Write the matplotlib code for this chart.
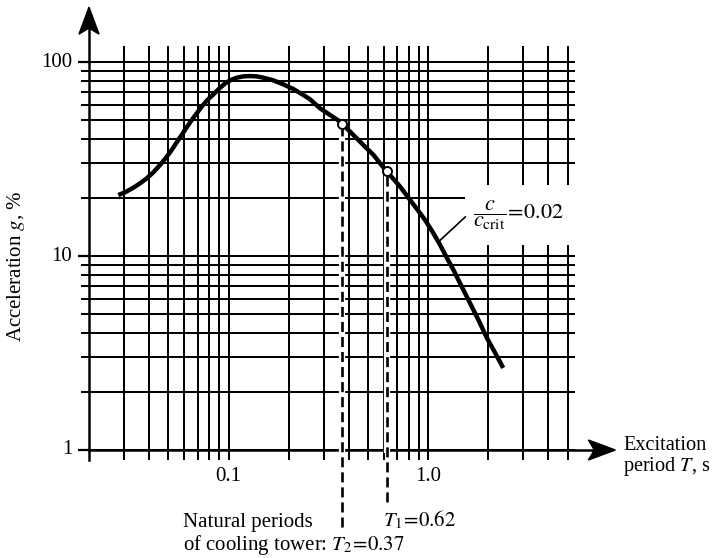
import matplotlib
matplotlib.use("Agg")
import matplotlib.pyplot as plt
import matplotlib.transforms as mtransforms
from matplotlib.patches import Polygon, Rectangle

plt.rcParams['font.family'] = 'Liberation Serif'
plt.rcParams['mathtext.fontset'] = 'stix'
plt.rcParams['font.size'] = 15

# response spectrum (period in s, acceleration in % of g)
period = [0.02804, 0.03029, 0.03334, 0.03601, 0.0389, 0.04199, 0.04535, 0.04861, 0.05189, 0.05497,
          0.05823, 0.06169, 0.06536, 0.06925, 0.07336, 0.07831, 0.08394, 0.08995, 0.09605, 0.1025,
          0.1099, 0.1187, 0.1282, 0.1384, 0.1495, 0.1678, 0.1883, 0.2113, 0.2372, 0.2562,
          0.2875, 0.3228, 0.359, 0.3986, 0.439, 0.4832, 0.532, 0.5745, 0.616, 0.67,
          0.724, 0.812, 0.886, 0.966, 1.053, 1.148, 1.238, 1.339, 1.472, 1.62,
          1.791, 1.968, 2.167, 2.376]
accel = [20.63, 21.29, 22.5, 23.69, 25.14, 27.0, 29.45, 32.13, 35.19, 38.54,
         42.05, 46.06, 50.23, 54.37, 58.87, 63.7, 68.14, 73.14, 77.62, 80.77,
         83.04, 84.37, 84.7, 84.37, 83.04, 80.45, 76.71, 72.56, 67.61, 64.2,
         57.7, 53.3, 49.6, 44.6, 40.4, 36.6, 33.2, 30.05, 27.5, 24.94,
         22.76, 19.44, 17.27, 15.3, 13.3, 11.4, 9.82, 8.47, 6.96, 5.72,
         4.65, 3.78, 3.16, 2.65]

# natural periods of the cooling tower
T1, A1 = 0.62, 27.3
T2, A2 = 0.37, 48.1
damping = 0.02

grid_x = [0.03, 0.04, 0.05, 0.06, 0.07, 0.08, 0.09, 0.1, 0.2, 0.3, 0.4, 0.5, 0.6, 0.7,
          0.8, 0.9, 1.0, 2, 3, 4, 5]
grid_y = [1, 2, 3, 4, 5, 6, 7, 8, 9, 10, 20, 30, 40, 50, 60, 70, 80, 90, 100]
xtick_vals, xtick_labels = [0.1, 1.0], ['0.1', '1.0']
ytick_vals, ytick_labels = [1, 10, 100], ['1', '10', '100']

W, H = 712, 558
fig = plt.figure(figsize=(W/100, H/100), dpi=100)
ax = fig.add_axes([89/W, 108/H, (576-89)/W, (450-46)/H])
ax.set_xscale('log'); ax.set_yscale('log')
ax.set_xlim(0.02, 5.5); ax.set_ylim(1, 121)
ax.axis('off')

x0, y_top, y_bot = 0.02, 121, 0.888
x_right, x_left = 5.45, 0.0183
ax.vlines(grid_x, y_bot, y_top, color='black', lw=1.45, clip_on=False, zorder=2)
ax.hlines(grid_y, x_left, x_right, color='black', lw=1.45, clip_on=False, zorder=2)
ax.hlines(ytick_vals, 0.0176, x0, color='black', lw=1.6, clip_on=False, zorder=2)

# axes with arrows
ax.plot([x0, x0], [y_bot, 180], color='black', lw=1.8, clip_on=False, zorder=3)
ax.plot([x0, 8.0], [1, 1], color='black', lw=1.8, clip_on=False, zorder=3)
head_up = [(0, 0), (-0.10, -0.27), (0, -0.21), (0.10, -0.27)]
head_right = [(0, 0), (-0.27, 0.10), (-0.21, 0), (-0.27, -0.10)]
for tip, verts in [((x0, 192), head_up), ((8.66, 1), head_right)]:
    tr = fig.dpi_scale_trans + mtransforms.ScaledTranslation(tip[0], tip[1], ax.transData)
    ax.add_patch(Polygon(verts, closed=True, color='black', transform=tr, clip_on=False, zorder=5))

# tick labels
for v, s in zip(ytick_vals, ytick_labels):
    ax.annotate(s, xy=(x0, v), xytext=(-12, 0), textcoords='offset points',
                ha='right', va='center', annotation_clip=False)
for v, s in zip(xtick_vals, xtick_labels):
    ax.annotate(s, xy=(v, 1), xytext=(0, -19), textcoords='offset points',
                ha='center', va='center', annotation_clip=False)

fig.text(16/W, 1-266/H, 'Acceleration $g$, %', rotation=90, ha='center', va='center')
ax.annotate('Excitation\nperiod $T$, s', xy=(8.66, 1), xytext=(5.5, -5), textcoords='offset points',
            ha='left', va='center', linespacing=1.05, fontsize=14.6, annotation_clip=False)

# damping label with white box over the grid
ax.add_patch(Rectangle((1.53, 11.4), 5.6-1.53, 23.2-11.4, facecolor='white', edgecolor='none',
                       zorder=3, clip_on=False))
ax.text(1.68, 16.2, r'$\dfrac{c}{c_{\rm crit}}\!=\!%s$' % damping, ha='left', va='center',
        fontsize=16, zorder=6)
ax.plot([1.122, 1.533], [11.8, 15.9], color='black', lw=1.2, zorder=4)

# spectrum curve
ax.plot(period, accel, color='black', lw=3.2, solid_capstyle='butt', solid_joinstyle='round', zorder=6)

# natural periods, dashed down to the labels
for T, A, bottom in [(T2, A2, 0.40), (T1, A1, 0.54)]:
    ax.plot([T, T], [1, A], color='white', lw=4.5, zorder=4, clip_on=False)
    ax.plot([T, T], [bottom, A], color='black', lw=1.9, dashes=(3.8, 1.9), zorder=5, clip_on=False)
ax.plot([T2, T1], [A2, A1], 'o', ms=6.5, mfc='white', mec='black', mew=1.4, zorder=7, ls='none')

fig.text(183/W, 1-522/H, 'Natural periods', ha='left', va='center')
fig.text(183/W, 1-545/H, 'of cooling tower: $T_2\\!=\\!%s$' % T2, ha='left', va='center')
fig.text(383/W, 1-520/H, '$T_1\\!=\\!%s$' % T1, ha='left', va='center')

fig.savefig('out.png', dpi=100)
